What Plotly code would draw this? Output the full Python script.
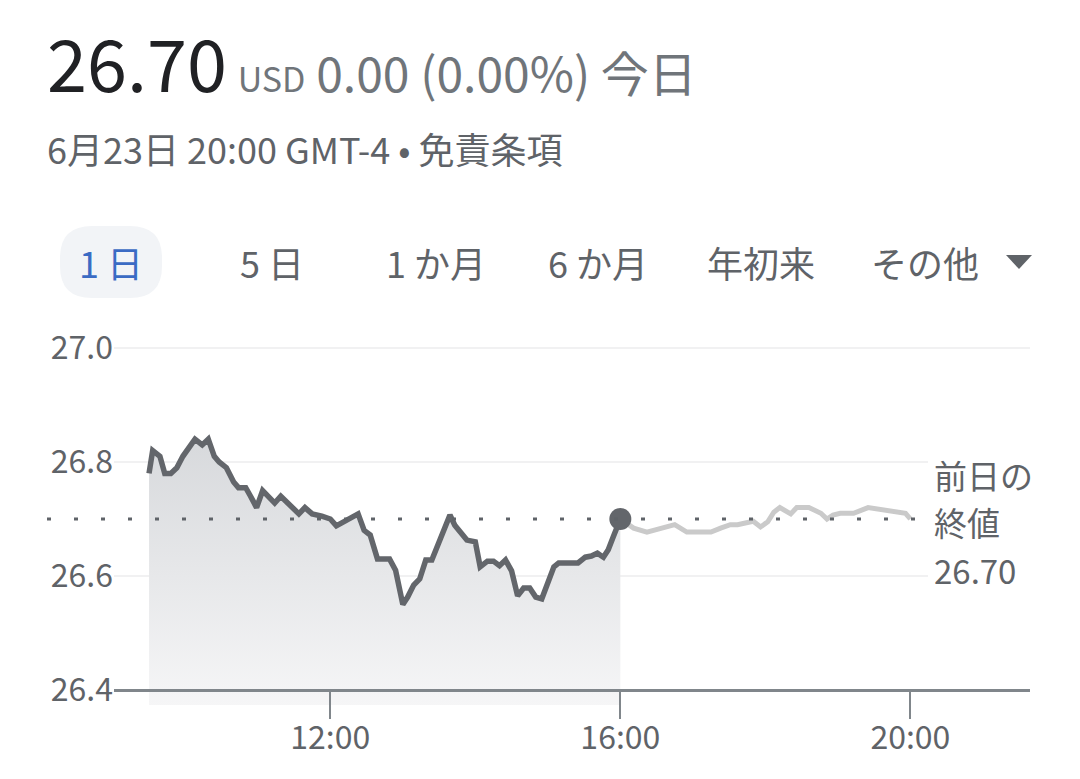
import plotly.graph_objects as go

DAY = "2023-06-23"

# Regular session (09:30-16:00)
session_times = ["09:30", "09:33", "09:39", "09:43", "09:48", "09:53", "09:58", "10:04", "10:08", "10:14",
                 "10:19", "10:24", "10:28", "10:34", "10:40", "10:44", "10:50", "10:54", "10:59", "11:04",
                 "11:09", "11:14", "11:19", "11:25", "11:34", "11:39", "11:45", "11:53", "12:00", "12:05",
                 "12:23", "12:28", "12:33", "12:39", "12:49", "12:54", "13:00", "13:04", "13:09", "13:14",
                 "13:19", "13:24", "13:31", "13:39", "13:43", "13:48", "13:53", "14:00", "14:04", "14:10",
                 "14:15", "14:20", "14:25", "14:30", "14:35", "14:40", "14:45", "14:50", "14:55", "15:05",
                 "15:09", "15:25", "15:31", "15:36", "15:41", "15:46", "15:50", "15:54", "16:00"]
session_prices = [26.78, 26.82, 26.81, 26.78, 26.78, 26.79, 26.81, 26.83, 26.84, 26.83,
                  26.84, 26.81, 26.80, 26.79, 26.765, 26.755, 26.755, 26.74, 26.72, 26.75,
                  26.74, 26.728, 26.74, 26.728, 26.709, 26.72, 26.709, 26.705, 26.70, 26.688,
                  26.709, 26.68, 26.672, 26.63, 26.63, 26.61, 26.55, 26.563, 26.584, 26.595,
                  26.628, 26.628, 26.667, 26.707, 26.689, 26.675, 26.663, 26.66, 26.616, 26.626,
                  26.626, 26.618, 26.628, 26.609, 26.565, 26.579, 26.579, 26.563, 26.56, 26.616,
                  26.623, 26.623, 26.633, 26.635, 26.64, 26.633, 26.646, 26.668, 26.70]

# After hours (16:00-20:00)
after_times = ["16:00", "16:11", "16:22", "16:33", "16:45", "16:55", "17:15", "17:23", "17:31", "17:37",
               "17:42", "17:50", "17:56", "18:02", "18:07", "18:12", "18:21", "18:26", "18:36", "18:46",
               "18:51", "18:56", "19:02", "19:13", "19:25", "19:38", "19:56", "20:00"]
after_prices = [26.70, 26.684, 26.677, 26.684, 26.69, 26.677, 26.677, 26.684, 26.69, 26.69,
                26.693, 26.696, 26.686, 26.695, 26.712, 26.72, 26.709, 26.72, 26.72, 26.71,
                26.70, 26.707, 26.71, 26.71, 26.72, 26.716, 26.71, 26.70]

prev_close = 26.70
last_price = 26.70
last_time = "16:00"
currency = "USD"
change_text = "0.00 (0.00%) 今日"
subtitle_text = "6月23日 20:00 GMT-4 • 免責条項"
prev_close_label = ["前日の", "終値"]
y_ticks = [26.4, 26.6, 26.8, 27.0]
tabs = ["1 日", "5 日", "1 か月", "6 か月", "年初来", "その他"]

# ---------------- layout geometry (screen pixels) ----------------
W, H = 1080, 779
OFF = 8                   # browser default body margin
L, R = 114, 1030          # plot area left/right (screen)
T, B = 346, 705           # plot area top/bottom (screen)
FONT = "Noto Sans CJK JP"
GRAY = "#5f6368"


def px(x):
    return (x - L) / (R - L)


def py(y):
    return (B - y) / (B - T)


def ts(t):
    return f"{DAY} {t}"


fig = go.Figure()

fig.add_trace(go.Scatter(
    x=[ts(t) for t in session_times], y=session_prices, mode="lines",
    line=dict(color="#63666b", width=5.5), fill="tozeroy",
    fillgradient=dict(type="vertical", start=26.37, stop=26.86,
                      colorscale=[[0, "#f6f6f7"], [1, "#d6d8db"]]),
    hoverinfo="skip", showlegend=False))

fig.add_trace(go.Scatter(
    x=[ts(t) for t in after_times], y=after_prices, mode="lines",
    line=dict(color="#cacaca", width=5), hoverinfo="skip", showlegend=False))

fig.add_trace(go.Scatter(
    x=[ts(last_time)], y=[last_price], mode="markers",
    marker=dict(color="#63666b", size=22), hoverinfo="skip", showlegend=False))

shapes = [
    # previous close dotted line
    dict(type="line", xref="paper", yref="y", x0=px(47), x1=px(918), y0=prev_close, y1=prev_close,
         line=dict(color=GRAY, width=3, dash="4px,23px"), layer="above"),
    # white box behind prev-close label
    dict(type="rect", xref="paper", yref="paper", x0=px(928), x1=px(1031), y0=py(592), y1=py(452),
         fillcolor="white", line=dict(width=0), layer="above"),
    # selected tab pill
    dict(type="path", xref="paper", yref="paper", xsizemode="pixel", ysizemode="pixel",
         xanchor=px(111), yanchor=py(262),
         path="M -19 -36 L 19 -36 Q 51 -36 51 -4 L 51 4 Q 51 36 19 36 L -19 36 Q -51 36 -51 4 "
              "L -51 -4 Q -51 -36 -19 -36 Z",
         fillcolor="#f2f4f7", line=dict(width=0), layer="below"),
    # dropdown triangle
    dict(type="path", xref="paper", yref="paper", xsizemode="pixel", ysizemode="pixel",
         xanchor=px(1019), yanchor=py(262),
         path="M -13 7 L 13 7 L 0 -7 Z", fillcolor=GRAY, line=dict(width=0)),
]

annotations = [
    dict(xref="paper", yref="paper", x=px(45), y=py(60), xanchor="left", yanchor="middle",
         text=f"<span style='font-size:72px;color:#202124'>{last_price:.2f}</span> "
              f"<span style='font-size:34px'>{currency}</span> {change_text}",
         font=dict(family=FONT, size=48, color="#70757a"), showarrow=False),
    dict(xref="paper", yref="paper", x=px(45), y=py(148), xanchor="left", yanchor="middle",
         text=subtitle_text, font=dict(family=FONT, size=36, color=GRAY), showarrow=False),
]

tab_centers = [111, 272, 436, 598, 761, 925]
for i, (label, cx) in enumerate(zip(tabs, tab_centers)):
    annotations.append(dict(xref="paper", yref="paper", x=px(cx), y=py(262), xanchor="center",
                            yanchor="middle", text=label, showarrow=False,
                            font=dict(family=FONT, size=36, color="#3b6bc4" if i == 0 else GRAY)))

label_lines = prev_close_label + [f"{prev_close:.2f}"]
for txt, yy in zip(label_lines, [475, 522, 570]):
    annotations.append(dict(xref="paper", yref="paper", x=px(932), y=py(yy), xanchor="left",
                            yanchor="middle", text=txt, showarrow=False,
                            font=dict(family=FONT, size=33, color=GRAY)))

fig.update_layout(
    width=W, height=H,
    margin=dict(l=L - OFF, r=W - (R - OFF), t=T - OFF, b=H - (B - OFF), pad=0),
    paper_bgcolor="white", plot_bgcolor="white",
    font=dict(family=FONT, color=GRAY),
    shapes=shapes, annotations=annotations, showlegend=False,
    xaxis=dict(type="date", range=[ts("09:01"), ts("21:39")],
               tickmode="linear", tick0=ts("00:00"), dtick=4 * 3600 * 1000, tickformat="%H:%M",
               anchor="free", position=(B - 690) / (B - T),
               showline=True, linecolor="#80868b", linewidth=2.5,
               ticks="outside", ticklen=27, tickwidth=2, tickcolor="#80868b",
               ticklabelstandoff=-8,
               showgrid=False, zeroline=False,
               tickfont=dict(family=FONT, size=32, color=GRAY)),
    yaxis=dict(range=[26.4 - (B - 690) / 570, 27.0 + (348 - T) / 570],
               tickvals=y_ticks, ticktext=[f"{v:.1f}" for v in y_ticks],
               showgrid=True, gridcolor="#f1f1f2", gridwidth=2, zeroline=False, showline=False,
               ticks="", tickfont=dict(family=FONT, size=32, color=GRAY)),
)

fig.write_html("out.html")
